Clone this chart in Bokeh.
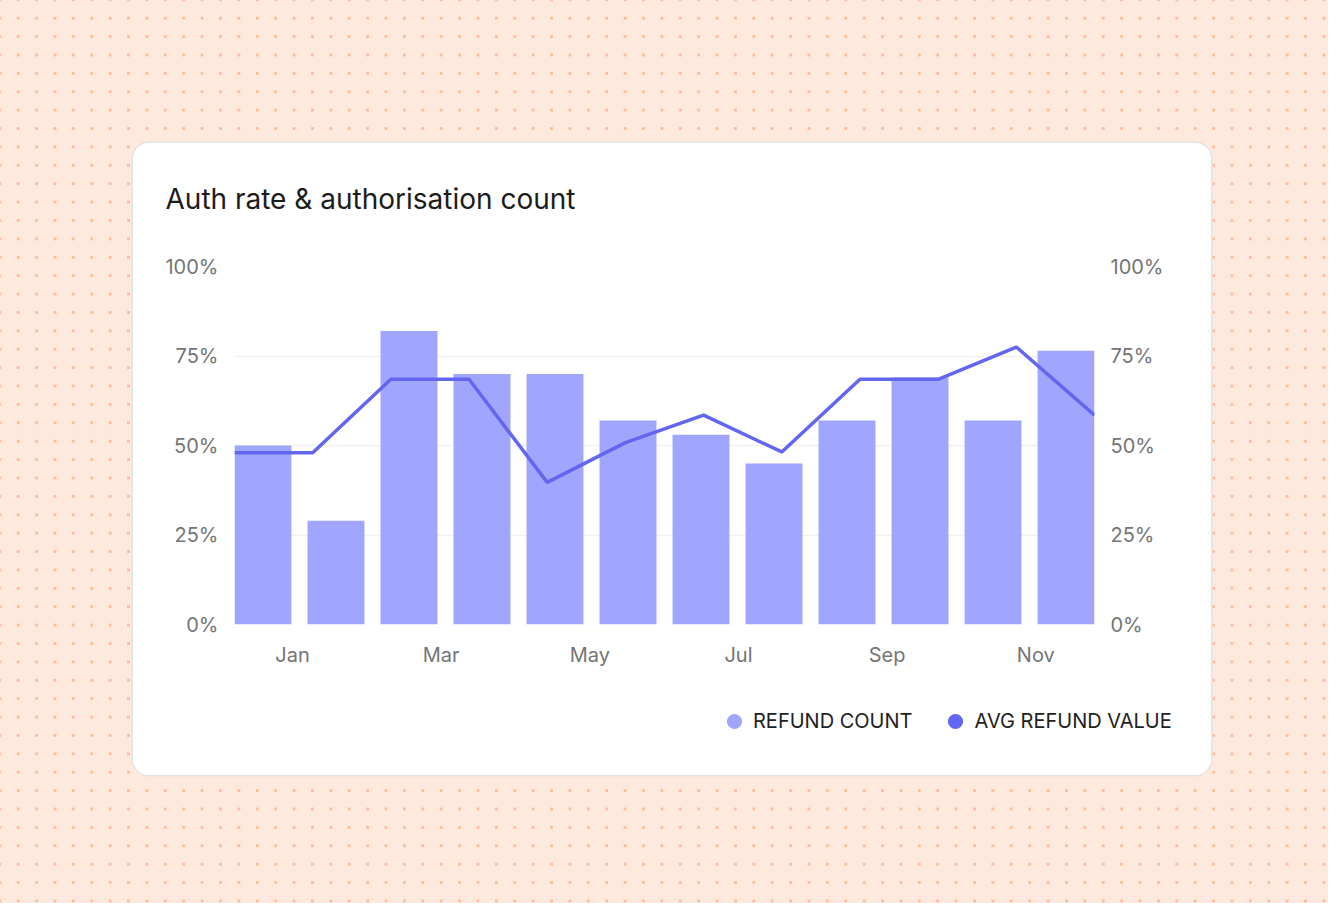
import numpy as np
from bokeh.embed import file_html
from bokeh.layouts import column, row
from bokeh.models import (ColumnDataSource, FixedTicker, Label, Legend, LegendItem,
                          LinearAxis, PrintfTickFormatter, Range1d, Spacer)
from bokeh.plotting import figure
from bokeh.resources import INLINE

# Data - monthly refund count (bars) and avg refund value (line), both in %
months = ["Jan", "Feb", "Mar", "Apr", "May", "Jun", "Jul", "Aug", "Sep", "Oct", "Nov", "Dec"]
refund_count = [50, 29, 82, 70, 70, 57, 53, 45, 57, 69, 57, 76.5]
avg_refund_value = [48, 48, 68.5, 68.5, 39.7, 50.8, 58.5, 48.2, 68.5, 68.5, 77.5, 58.5]
pct_ticks = [0, 25, 50, 75, 100]
label_months = [0, 2, 4, 6, 8, 10]

FONT = "Inter"
BAR = "#a0a6fd"
LINE = "#6366f1"
CARD_W = 1078


def blank_fig(height):
    f = figure(width=CARD_W, height=height, x_range=Range1d(0, 1), y_range=Range1d(0, 1),
               x_axis_location=None, y_axis_location=None, output_backend="svg",
               toolbar_location=None, min_border=0)
    f.outline_line_color = None
    f.grid.grid_line_color = None
    f.background_fill_color = "white"
    f.border_fill_color = "white"
    return f


# Header with title
head = blank_fig(100)
head.add_layout(Label(x=32, y=45, x_units="screen", y_units="screen",
                      text="Auth rate & authorisation count", text_font=FONT,
                      text_font_size="28px", text_color="#1c1c1c", text_baseline="alphabetic"))

# Main chart
idx = np.arange(len(months))
bar_src = ColumnDataSource(data={"x": idx, "count": refund_count})
line_src = ColumnDataSource(data={"x": idx, "value": avg_refund_value})

p = figure(
    width=CARD_W,
    height=430,
    x_range=Range1d(-0.39, 11.39),
    y_range=Range1d(0, 100),
    x_axis_location=None,
    y_axis_location=None,
    output_backend="svg",
    toolbar_location=None,
    min_border_left=101,
    min_border_right=117,
    min_border_top=23,
    min_border_bottom=49,
)
p.extra_x_ranges = {"line": Range1d(0, 11), "months": Range1d(-0.78, 10.79)}
p.extra_y_ranges = {"right": Range1d(0, 100)}
p.outline_line_color = None
p.background_fill_color = "white"
p.border_fill_color = "white"

p.xgrid.grid_line_color = None
p.ygrid.ticker = FixedTicker(ticks=pct_ticks)
p.ygrid.grid_line_color = "#f1f1f1"
p.ygrid.grid_line_width = 1.5

bars = p.vbar(x="x", top="count", width=0.78, source=bar_src, fill_color=BAR, line_color=None)
trend = p.line(x="x", y="value", source=line_src, x_range_name="line", line_color=LINE, line_width=3.5)


def style_axis(ax):
    ax.axis_line_color = None
    ax.major_tick_line_color = None
    ax.minor_tick_line_color = None
    ax.major_label_text_font = FONT
    ax.major_label_text_font_size = "20px"
    ax.major_label_text_color = "#757575"


left = LinearAxis(ticker=FixedTicker(ticks=pct_ticks), formatter=PrintfTickFormatter(format="%d%%"))
right = LinearAxis(y_range_name="right", ticker=FixedTicker(ticks=pct_ticks),
                   formatter=PrintfTickFormatter(format="%d%%"))
bottom = LinearAxis(x_range_name="months", ticker=FixedTicker(ticks=label_months),
                    major_label_overrides={m: months[m] for m in label_months})
for ax in (left, right):
    style_axis(ax)
    ax.major_label_standoff = 10
style_axis(bottom)
bottom.major_label_standoff = 12
p.add_layout(left, "left")
p.add_layout(right, "right")
p.add_layout(bottom, "below")

# Footer with legend (round markers; NaN rows so only the legend shows them)
foot = blank_fig(102)
dot1 = foot.scatter(x=[np.nan], y=[np.nan], marker="circle", fill_color=BAR, line_color=None)
dot2 = foot.scatter(x=[np.nan], y=[np.nan], marker="circle", fill_color=LINE, line_color=None)
legend = Legend(
    items=[LegendItem(label="REFUND COUNT", renderers=[dot1]),
           LegendItem(label="AVG REFUND VALUE", renderers=[dot2])],
    orientation="horizontal",
    location=(582, 35),
    glyph_width=38,
    glyph_height=38,
    label_standoff=0,
    spacing=24,
    padding=0,
    margin=0,
    label_text_font=FONT,
    label_text_font_size="20px",
    label_text_color="#222222",
    background_fill_alpha=0,
    border_line_color=None,
)
foot.add_layout(legend)

card = column(
    row(head, width=CARD_W, height=100),
    p,
    row(foot, width=CARD_W, height=102),
    width=CARD_W,
    height=632,
    styles={
        "border-radius": "16px",
        "overflow": "hidden",
        "box-shadow": "0 0 0 1.5px #e4e4e4",
        "background-color": "white",
    },
)

page = column(
    Spacer(height=143),
    row(Spacer(width=133), card),
    width=1328,
    height=903,
    styles={
        "background-color": "#fee9df",
        "background-image": "radial-gradient(circle, #fdbf9f 1.5px, transparent 1.9px)",
        "background-size": "18.4px 18.4px",
        "background-position": "9px 9px",
    },
)

open("out.html", "w").write(file_html(page, INLINE))
